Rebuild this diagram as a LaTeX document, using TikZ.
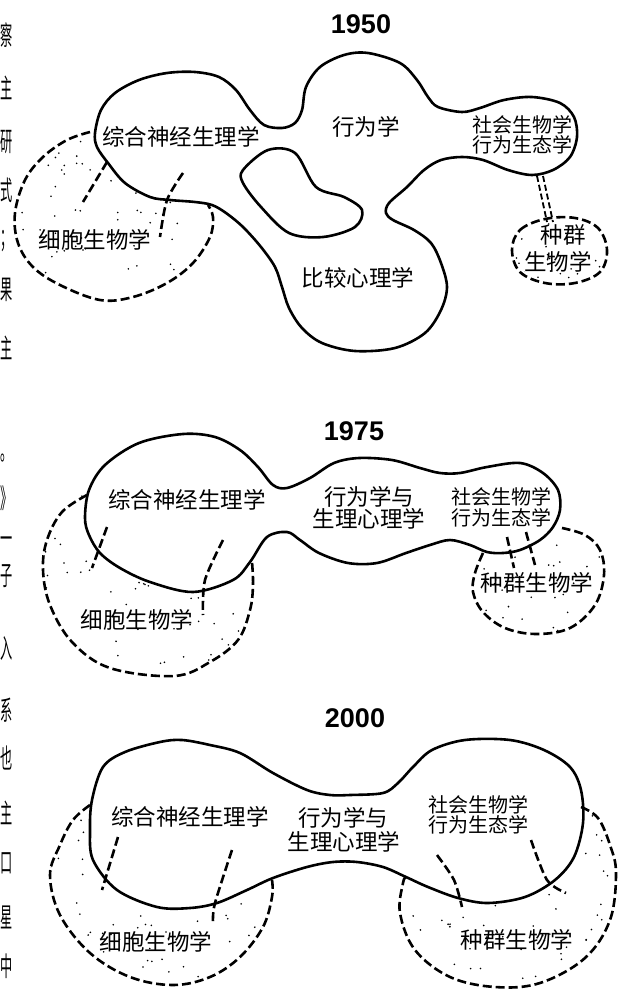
\documentclass[tikz,border=0pt]{standalone}
\usepackage{fontspec}
\setmainfont{Liberation Sans}
\newfontfamily\cjk{Noto Sans CJK SC}
\newcommand\stippledots[6]{%
  \pgfmathsetseed{#1}%
  \foreach \i in {1,...,#2}{%
    \pgfmathsetmacro\sx{#3+rnd*#5}%
    \pgfmathsetmacro\sy{#4+rnd*#6}%
    \fill (\sx,\sy) circle[radius=0.9];
  }%
}
\begin{document}
\begin{tikzpicture}[x=1pt,y=-1pt,
  blobline/.style={line width=2.6pt, line join=round},
  dashline/.style={line width=2.6pt, dash pattern=on 9pt off 4pt},
  lab/.style={font=\cjk\fontsize{22.5}{24}\selectfont, inner sep=0pt},
  labs/.style={font=\cjk\fontsize{20}{22}\selectfont, inner sep=0pt},
  yr/.style={font=\bfseries\fontsize{27}{30}\selectfont, inner sep=0pt},
  frag/.style={font=\cjk\fontsize{27}{30}\selectfont, inner sep=0pt, anchor=west},
]
\useasboundingbox (0,0) rectangle (625,991);
\fill[white] (0,0) rectangle (625,991);

% ---------- margin fragments ----------
\foreach \c/\yy [count=\k] in {察/35,主/88,研/142,式/190,；/241,果/290,主/348,。/458,》/498,一/543,子/576,入/648,系/710,也/758,主/813,口/863,星/917,中/966}
  \node[frag] (frag\k) at (0.5,\yy) {\scalebox{0.45}[1]{\c}};

% ================= 1950 =================
\node[yr] (y1950) at (361,24) {1950};

\begin{scope}
\clip plot[smooth cycle, tension=0.6] coordinates {(90,132) (67,140) (43,157) (25,180) (15,213) (18,243) (33,267) (60,285) (100,300) (133,297) (167,283) (193,263) (210,237) (213,217) (208,205) (160,190) (110,160)};
\stippledots{11}{80}{15}{130}{200}{172}
\end{scope}
\begin{scope}
\clip (560,250) ellipse[x radius=48, y radius=32];
\stippledots{12}{25}{512}{218}{96}{66}
\end{scope}

\draw[blobline, fill=white] plot[smooth cycle, tension=0.55] coordinates {
(95,133) (101,110) (115,93) (139,80) (167,73) (195,72) (219,77) (236,90) (250,110) (264,125) (282,128) (295,123) (302,110) (306,87) (320,67) (344,55) (368,53) (400,63) (417,80) (428,97) (438,107) (462,112) (480,108) (504,100) (532,97) (560,103) (574,117) (577,137) (570,157) (553,170) (532,175) (508,170) (483,160) (462,157) (441,160) (424,170) (407,187) (389,203) (386,213) (393,220) (414,230) (431,243) (441,263) (447,287) (441,310) (425,333) (395,348) (355,351) (322,343) (302,328) (289,308) (282,287) (275,267) (261,247) (243,227) (226,213) (212,205) (195,202) (170,200) (150,197) (125,183) (108,163) (97,147)};
\draw[blobline] plot[smooth cycle, tension=0.55] coordinates {
(243,170) (268,150) (295,153) (316,187) (344,197) (362,210) (355,227) (323,237) (289,233) (261,207) (243,183)};

\draw[dashline] plot[smooth, tension=0.6] coordinates {(90,132) (67,140) (43,157) (25,180) (15,213) (18,243) (33,267) (60,285) (100,300) (133,297) (167,283) (193,263) (210,237) (213,217) (208,205)};
\draw[dashline] (107,162) -- (83,202);
\draw[dashline] plot[smooth] coordinates {(183,173) (167,200) (160,237)};
\draw[dashline] plot[smooth cycle, tension=0.6] coordinates {(512,250) (520,230) (545,219) (575,218) (598,228) (607,250) (600,272) (575,283) (545,283) (520,272)};
\draw[dashline, line width=1.8pt, dash pattern=on 6pt off 3pt] (537,176) -- (547,222);
\draw[dashline, line width=1.8pt, dash pattern=on 6pt off 3pt] (543,176) -- (553,222);

\node[lab] (a1) at (181,137) {综合神经生理学};
\node[lab] (a2) at (366,127) {行为学};
\node[labs] (a3) at (522,125) {社会生物学};
\node[labs] (a4) at (522,145) {行为生态学};
\node[lab] (a5) at (358,278) {比较心理学};
\node[lab] (a6) at (95,240) {细胞生物学};
\node[lab] (a7) at (563,235) {种群};
\node[lab] (a8) at (558,262) {生物学};

% ================= 1975 =================
\node[yr] (y1975) at (354,431) {1975};

\begin{scope}
\clip plot[smooth cycle, tension=0.6] coordinates {(87,495) (62,512) (47,540) (43,570) (50,605) (72,642) (110,668) (174,676) (210,662) (238,640) (250,610) (253,585) (252,562) (200,560) (120,520)};
\stippledots{21}{80}{43}{490}{212}{188}
\end{scope}
\begin{scope}
\clip plot[smooth cycle, tension=0.6] coordinates {(483,553) (475,573) (473,592) (483,612) (505,628) (536,634) (570,628) (595,605) (604,575) (600,550) (585,535) (562,528) (530,545)};
\stippledots{22}{40}{473}{528}{133}{107}
\end{scope}

\draw[blobline, fill=white] plot[smooth cycle, tension=0.55] coordinates {
(85,518) (89,490) (105,465) (139,443) (183,434) (215,437) (240,450) (258,467) (273,485) (287,488) (310,478) (334,463) (359,458) (392,460) (420,468) (440,473) (460,473) (487,467) (520,463) (543,473) (558,490) (560,510) (553,527) (540,540) (520,550) (503,553) (487,552) (470,545) (450,540) (430,545) (406,553) (377,563) (348,563) (319,553) (300,540) (287,532) (267,537) (250,562) (233,580) (193,592) (150,582) (120,568) (100,553) (89,535)};

\draw[dashline] plot[smooth, tension=0.6] coordinates {(87,495) (62,512) (47,540) (43,570) (50,605) (72,642) (110,668) (174,676) (210,662) (238,640) (250,610) (253,585) (252,562)};
\draw[dashline] (107,527) -- (92,568);
\draw[dashline] plot[smooth] coordinates {(223,540) (205,580) (203,615)};
\draw[dashline] plot[smooth, tension=0.6] coordinates {(483,553) (475,573) (473,592) (483,612) (505,628) (536,634) (570,628) (595,605) (604,575) (600,550) (585,535) (562,528)};
\draw[dashline] (507,537) -- (514,568);
\draw[dashline] (526,532) -- (535,565);

\node[lab] (b1) at (187,500) {综合神经生理学};
\node[lab] (b2) at (369,497) {行为学与};
\node[lab] (b3) at (369,519) {生理心理学};
\node[labs] (b4) at (501,497) {社会生物学};
\node[labs] (b5) at (501,518) {行为生态学};
\node[lab] (b6) at (137,620) {细胞生物学};
\node[lab] (b7) at (537,583) {种群生物学};

% ================= 2000 =================
\node[yr] (y2000) at (355,718) {2000};

\begin{scope}
\clip plot[smooth cycle, tension=0.6] coordinates {(90,805) (73,820) (60,845) (50,875) (60,915) (90,953) (130,977) (173,985) (210,977) (240,957) (263,927) (272,897) (272,880) (200,870) (120,850)};
\stippledots{31}{90}{50}{803}{223}{183}
\end{scope}
\begin{scope}
\clip plot[smooth cycle, tension=0.6] coordinates {(581,807) (598,818) (610,845) (616,873) (610,920) (585,958) (540,983) (495,987) (450,977) (415,950) (400,913) (403,883) (406,877) (480,880) (560,850)};
\stippledots{32}{100}{400}{805}{217}{183}
\end{scope}

\draw[blobline, fill=white] plot[smooth cycle, tension=0.55] coordinates {
(90,830) (92,800) (103,767) (125,752) (160,742) (182,740) (210,745) (240,753) (273,773) (307,790) (330,795) (350,795) (383,793) (398,783) (413,767) (432,750) (465,740) (510,740) (544,750) (570,767) (581,790) (583,823) (574,857) (555,880) (525,897) (488,903) (458,898) (428,887) (406,877) (383,867) (357,862) (333,862) (307,867) (273,878) (247,890) (217,903) (190,908) (157,907) (117,890) (93,860)};

\draw[dashline] plot[smooth, tension=0.6] coordinates {(90,805) (73,820) (60,845) (50,875) (60,915) (90,953) (130,977) (173,985) (210,977) (240,957) (263,927) (272,897) (272,880)};
\draw[dashline] (118,837) -- (102,890);
\draw[dashline] plot[smooth] coordinates {(232,850) (215,903) (213,922)};
\draw[dashline] plot[smooth, tension=0.6] coordinates {(581,807) (598,818) (610,845) (616,873) (610,920) (585,958) (540,983) (495,987) (450,977) (415,950) (400,913) (403,883) (406,877)};
\draw[dashline] plot[smooth] coordinates {(437,855) (454,880) (462,907)};
\draw[dashline] plot[smooth] coordinates {(531,840) (547,880) (566,893)};

\node[lab] (c1) at (190,817) {综合神经生理学};
\node[lab] (c2) at (343,818) {行为学与};
\node[lab] (c3) at (344,842) {生理心理学};
\node[labs] (c4) at (478,805) {社会生物学};
\node[labs] (c5) at (478,825) {行为生态学};
\node[lab] (c6) at (156,942) {细胞生物学};
\node[lab] (c7) at (517,940) {种群生物学};
\end{tikzpicture}
\end{document}
